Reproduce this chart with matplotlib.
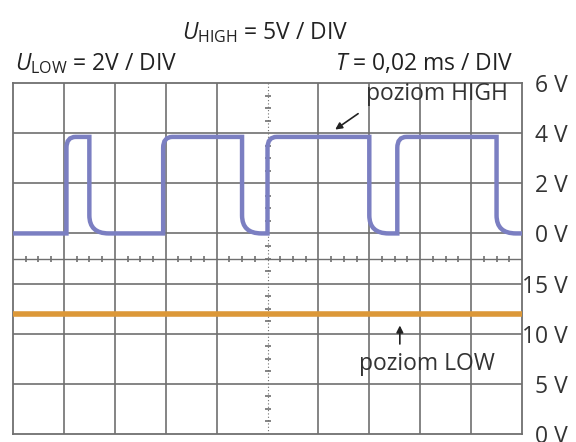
import numpy as np
import matplotlib
matplotlib.use("Agg")
import matplotlib.pyplot as plt
from matplotlib.path import Path
from matplotlib.patches import PathPatch
import matplotlib.transforms as mtransforms

plt.rcParams['font.family'] = ['Open Sans', 'DejaVu Sans']
plt.rcParams['mathtext.fontset'] = 'custom'
plt.rcParams['mathtext.rm'] = 'Open Sans'
plt.rcParams['mathtext.it'] = 'Open Sans:italic'

# time base: 0.02 ms per division, 10 divisions
t_per_div = 0.02
n_xdiv = 10

# upper channel (2 V/DIV), 0 V placed 4 divisions above the bottom
high_scale = 2.0
high_offset = 4
high_rise_ms = [0.021, 0.059, 0.100, 0.151]
high_fall_ms = [0.030, 0.090, 0.140, 0.190]
high_level_v = 3.85
low_level_v_upper = 0.0
high_labels = ['0 V', '2 V', '4 V', '6 V']

# lower channel (5 V/DIV), 0 V at the bottom
low_scale = 5.0
low_offset = 0
low_line_v = 12.0
low_labels = ['0 V', '5 V', '10 V', '15 V']

grid_col = '#6f6f6f'
trace_col = '#7b7fc2'
orange = '#dc9838'
txt_col = '#333333'
fs = 16.5

fig = plt.figure(figsize=(5.76, 4.42), dpi=100)
ax = fig.add_axes([13 / 576, 1 - 434 / 442, 509 / 576, 351 / 442])
ax.set_xlim(0, n_xdiv * t_per_div)
ax.set_ylim(0, 7)
ax.set_xticks([])
ax.set_yticks([])
for s in ax.spines.values():
    s.set_color(grid_col)
    s.set_linewidth(1.3)

# grid
for i in range(1, n_xdiv):
    if i == n_xdiv // 2:
        continue
    ax.axvline(i * t_per_div, color=grid_col, lw=1.2, zorder=1)
for j in range(1, 7):
    ax.axhline(j, color=grid_col, lw=1.2, zorder=1)

# centre axes with small ticks
xc = n_xdiv / 2 * t_per_div
ax.axvline(xc, color=grid_col, lw=0.8, ls=(0, (1, 2)), zorder=1)
yq = [k / 4 for k in range(1, 28) if k % 4 != 0]
ax.plot([xc] * len(yq), yq, ls='none', marker='_', ms=5, mew=1.2, color=grid_col, zorder=1)
ax.axhline(3.5, color=grid_col, lw=1.0, zorder=1)
xq = [k / 4 * t_per_div for k in range(1, 4 * n_xdiv) if k % 4 != 0]
ax.plot(xq, [3.5] * len(xq), ls='none', marker='|', ms=5, mew=1.2, color=grid_col, zorder=1)

# upper trace with rounded corners
y_hi = high_offset + high_level_v / high_scale
y_lo = high_offset + low_level_v_upper / high_scale
rx_top, ry_top = 0.18 * t_per_div, 0.22
rx_bot, ry_bot = 0.38 * t_per_div, 0.36
verts = [(0, y_lo)]
codes = [Path.MOVETO]
for tr, tf in zip(high_rise_ms, high_fall_ms):
    verts += [(tr, y_lo), (tr, y_hi - ry_top), (tr, y_hi), (tr + rx_top, y_hi),
              (tf, y_hi), (tf, y_lo + ry_bot), (tf, y_lo), (tf + rx_bot, y_lo)]
    codes += [Path.LINETO, Path.LINETO, Path.CURVE3, Path.CURVE3,
              Path.LINETO, Path.LINETO, Path.CURVE3, Path.CURVE3]
verts.append((n_xdiv * t_per_div, y_lo))
codes.append(Path.LINETO)
ax.add_patch(PathPatch(Path(verts, codes), fill=False, edgecolor=trace_col,
                       lw=3.2, capstyle='butt', joinstyle='miter', zorder=3))

# lower trace
y_low_line = low_offset + low_line_v / low_scale
ax.axhline(y_low_line, color=orange, lw=4, zorder=3)

# right side labels
trans = mtransforms.blended_transform_factory(ax.transAxes, ax.transData)
for k, lab in enumerate(high_labels):
    ax.text(1.09, high_offset + k - 0.06, lab, transform=trans, ha='right',
            va='center', fontsize=fs, color=txt_col)
for k, lab in enumerate(low_labels):
    ax.text(1.09, low_offset + k - 0.06, lab, transform=trans, ha='right',
            va='center', fontsize=fs, color=txt_col, clip_on=False)

# annotations
ax.annotate('', xy=(0.1257, 6.04), xytext=(0.1365, 6.42),
            arrowprops=dict(arrowstyle='-|>', color='#222222', lw=1.2, mutation_scale=10))
ax.text(0.1945, 6.78, 'poziom HIGH', ha='right', va='center', fontsize=fs, color=txt_col)
ax.annotate('', xy=(0.152, 2.22), xytext=(0.152, 1.74),
            arrowprops=dict(arrowstyle='-|>', color='#222222', lw=1.2, mutation_scale=10))
ax.text(0.1627, 1.40, 'poziom LOW', ha='center', va='center', fontsize=fs, color=txt_col)

# header
fig.text(265 / 576, 1 - 39 / 442, r'$\mathit{U}_{\mathrm{HIGH}}$ = 5V / DIV',
         ha='center', va='baseline', fontsize=fs, color='#222222')
fig.text(15 / 576, 1 - 70 / 442, r'$\mathit{U}_{\mathrm{LOW}}$ = 2V / DIV',
         ha='left', va='baseline', fontsize=fs, color='#222222')
fig.text(513 / 576, 1 - 70 / 442, r'$\mathit{T}$ = 0,02 ms / DIV',
         ha='right', va='baseline', fontsize=fs, color='#222222')

fig.savefig('out.png', dpi=100)
